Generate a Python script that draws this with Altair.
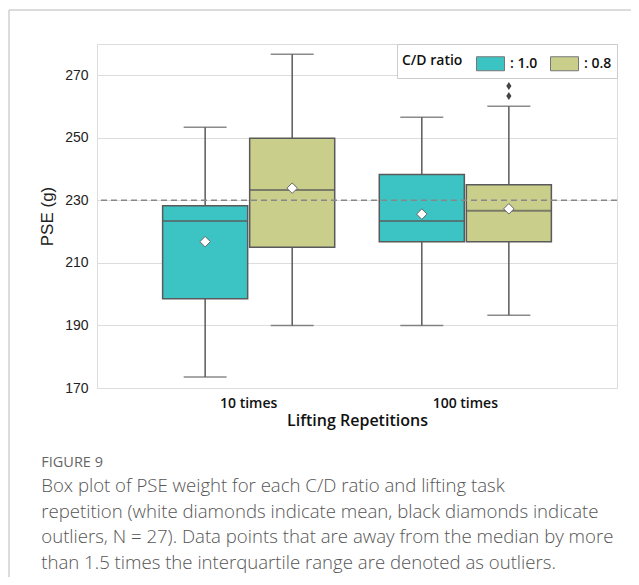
import altair as alt
import pandas as pd

# ---- data ----
groups = ["10 times", "10 times", "100 times", "100 times"]
ratios = [": 1.0", ": 0.8", ": 1.0", ": 0.8"]
whisker_low = [173.5, 190.0, 190.0, 193.3]
q1 = [198.5, 215.0, 216.8, 216.8]
median = [223.4, 233.3, 223.4, 226.7]
q3 = [228.3, 249.9, 238.3, 235.0]
whisker_high = [253.4, 276.7, 256.6, 260.1]
means = [216.8, 233.9, 225.6, 227.3]

outlier_groups = ["100 times", "100 times"]
outlier_ratios = [": 0.8", ": 0.8"]
outlier_values = [263.4, 266.6]

reference_value = [230]
y_ticks = [170, 190, 210, 230, 250, 270]
group_order = ["10 times", "100 times"]
ratio_order = [": 1.0", ": 0.8"]
box_colors = ["#3cc4c5", "#c9ce8b"]

caption_title = "FIGURE 9"
caption_lines = [
    "Box plot of PSE weight for each C/D ratio and lifting task",
    "repetition (white diamonds indicate mean, black diamonds indicate",
    "outliers, N = 27). Data points that are away from the median by more",
    "than 1.5 times the interquartile range are denoted as outliers.",
]

stats = pd.DataFrame({
    "group": groups, "ratio": ratios, "low": whisker_low, "q1": q1,
    "median": median, "q3": q3, "high": whisker_high, "mean": means,
})
outliers = pd.DataFrame({"group": outlier_groups, "ratio": outlier_ratios, "value": outlier_values})
ref = pd.DataFrame({"v": reference_value})

EDGE = "#5a5a5a"
LABEL_FONT = "Open Sans"

x_enc = alt.X(
    "group:N", sort=group_order,
    scale=alt.Scale(domain=group_order, paddingInner=0, paddingOuter=0.2),
    axis=alt.Axis(title="Lifting Repetitions", labelAngle=0, domain=False, ticks=False,
                  labelPadding=8, labelFont=LABEL_FONT, labelFontSize=14, labelFontWeight=600,
                  labelColor="#111", titleFont=LABEL_FONT, titleFontSize=16, titleFontWeight=600,
                  titleColor="#111", titlePadding=2),
)
xo_enc = alt.XOffset(
    "ratio:N", sort=ratio_order,
    scale=alt.Scale(domain=ratio_order, paddingInner=0.023, paddingOuter=0.256),
)
y_scale = alt.Scale(domain=[170, 280], nice=False, zero=False)
y_axis = alt.Axis(title="PSE (g)", values=y_ticks, domain=False, ticks=False, grid=True,
                  gridColor="#dddddd", labelPadding=9, labelFont="Liberation Sans",
                  labelFontSize=14, labelColor="#222", titleFont="Liberation Sans",
                  titleFontSize=17, titleFontWeight="normal", titleColor="#222", titlePadding=8)

base = alt.Chart(stats)

whiskers = base.mark_rule(color=EDGE, strokeWidth=1.5).encode(
    x=x_enc, xOffset=xo_enc,
    y=alt.Y("low:Q", scale=y_scale, axis=y_axis), y2="high:Q",
)
caps = base.transform_fold(["low", "high"], as_=["which", "val"]).mark_tick(
    color=EDGE, size=43, thickness=1.5
).encode(x=x_enc, xOffset=xo_enc, y=alt.Y("val:Q", scale=y_scale))

boxes = base.mark_bar(stroke=EDGE, strokeWidth=1.5).encode(
    x=x_enc, xOffset=xo_enc,
    y=alt.Y("q1:Q", scale=y_scale), y2="q3:Q",
    color=alt.Color(
        "ratio:N", sort=ratio_order,
        scale=alt.Scale(domain=ratio_order, range=box_colors),
        legend=alt.Legend(
            title="C/D ratio", orient="top-right", offset=0, direction="horizontal",
            titleOrient="left", titleFont=LABEL_FONT, titleFontSize=14, titleFontWeight=600,
            titleColor="#111", titlePadding=13, titleBaseline="middle", titleAnchor="middle",
            symbolType="M-1,-0.5H1V0.5H-1Z", symbolSize=784, symbolStrokeColor="#777",
            symbolStrokeWidth=1, symbolOpacity=1,
            labelFont=LABEL_FONT, labelFontSize=14, labelFontWeight=600, labelColor="#111",
            labelOffset=5, columnPadding=10, padding=5,
            strokeColor="#cccccc", fillColor="white",
        ),
    ),
)
medians = base.mark_tick(color=EDGE, size=85, thickness=2).encode(
    x=x_enc, xOffset=xo_enc, y=alt.Y("median:Q", scale=y_scale)
)
refline = alt.Chart(ref).mark_rule(color="#888888", strokeWidth=1.5, strokeDash=[6, 4]).encode(
    y=alt.Y("v:Q", scale=y_scale)
)
mean_pts = base.mark_point(shape="diamond", filled=True, fill="white", stroke="#666666",
                           strokeWidth=1, size=110, opacity=1).encode(
    x=x_enc, xOffset=xo_enc, y=alt.Y("mean:Q", scale=y_scale)
)
outlier_pts = alt.Chart(outliers).mark_point(
    shape="M0,-1L0.65,0L0,1L-0.65,0Z", filled=True, color="#444444", size=64, opacity=1
).encode(x=x_enc, xOffset=xo_enc, y=alt.Y("value:Q", scale=y_scale))

frame_src = pd.DataFrame({"k": [0]})
frame_top = alt.Chart(frame_src).mark_rule(color="#d0d0d0", strokeWidth=1.5).encode(
    x=alt.value(-88), x2=alt.value(540), y=alt.value(-34)
)
frame_left = alt.Chart(frame_src).mark_rule(color="#d0d0d0", strokeWidth=1.5).encode(
    x=alt.value(-88), y=alt.value(-34), y2=alt.value(533)
)

chart = alt.layer(
    frame_top, frame_left, whiskers, caps, boxes, medians, refline, mean_pts, outlier_pts
).properties(
    width=520, height=344,
    autosize=alt.AutoSizeParams(type="none"),
    padding={"left": 89, "top": 36, "right": 14, "bottom": 189},
    title=alt.TitleParams(
        text=caption_title, subtitle=caption_lines, orient="bottom", anchor="start",
        font=LABEL_FONT, fontSize=14.5, fontWeight=500, color="#666666", offset=-122, dx=33,
        subtitleFont="Open Sans", subtitleFontSize=18.6, subtitleFontWeight=300,
        subtitleColor="#555555", subtitleLineHeight=25.5, subtitlePadding=7,
    ),
).configure_view(stroke="#cccccc", strokeWidth=1.2).configure(background="white")

chart.save("out.html", embed_options={"renderer": "svg", "actions": False})
